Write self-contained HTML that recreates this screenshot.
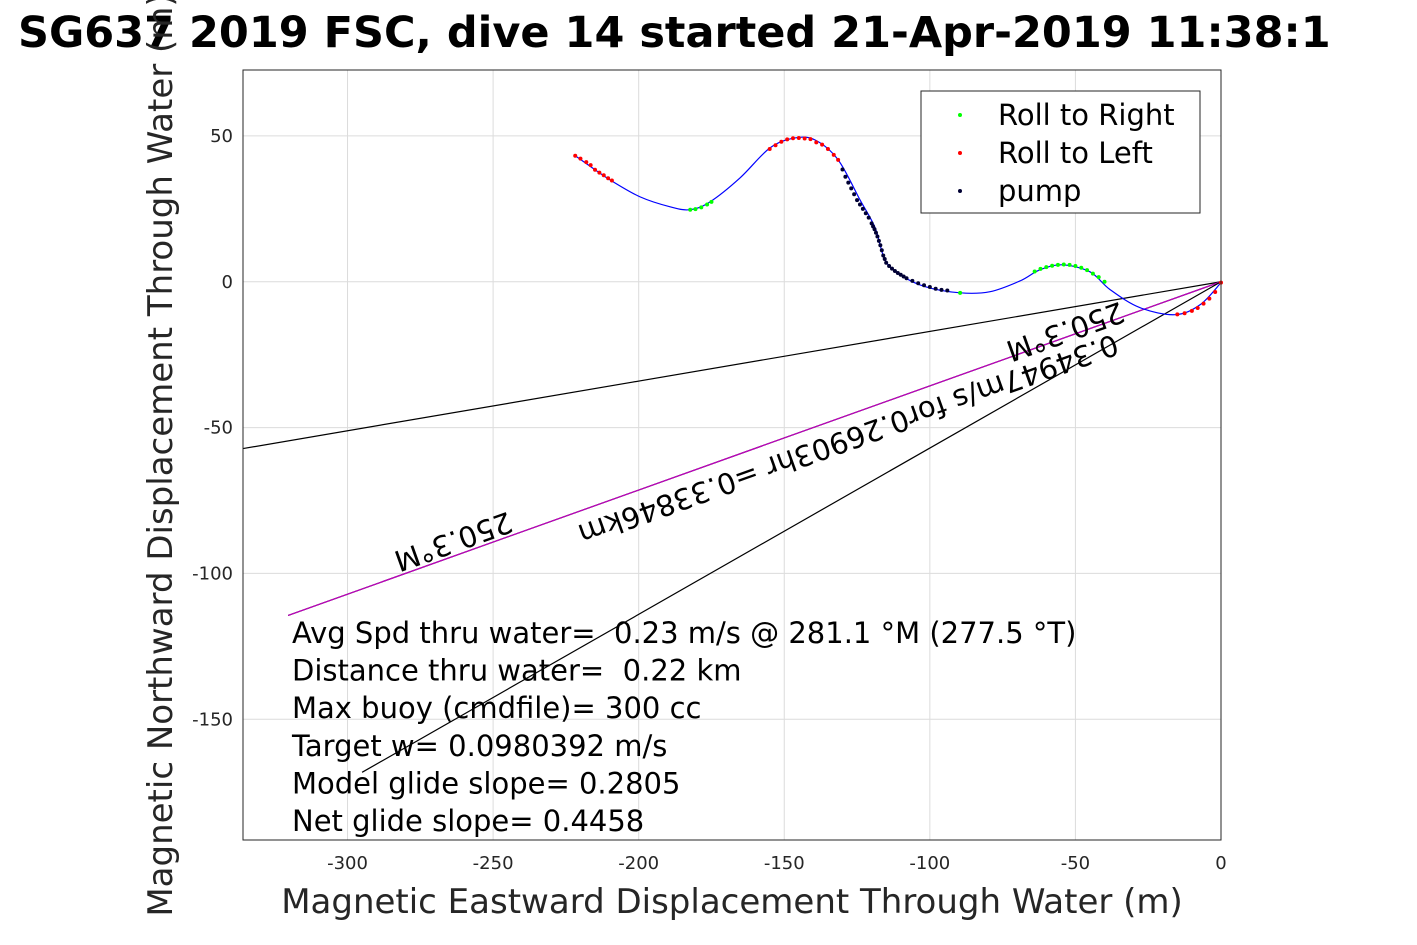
<!DOCTYPE html>
<html><head><meta charset="utf-8"><style>
body{margin:0;background:#fff;}
svg{display:block;font-family:"DejaVu Sans","Liberation Sans",sans-serif;}
text{white-space:pre;}
</style></head><body>
<svg id="c" width="1417" height="945"></svg>
<script>
const xTicks=[-300,-250,-200,-150,-100,-50,0];
const yTicks=[50,0,-50,-100,-150];
const trackX=[-221.8,-215.0,-209.8,-199.5,-189.2,-182.3,-175.5,-165.2,-154.9,-146.3,-139.4,-131.5,-124.0,-118.8,-115.4,-110.2,-101.6,-89.6,-79.3,-69.0,-62.2,-54.6,-45.0,-38.1,-27.8,-15.8,-7.2,0];
const trackY=[43.2,38.4,34.9,29.1,25.7,24.7,27.4,35.6,45.9,49.3,48.6,41.8,28.1,18.5,7.5,2.4,-1.7,-3.8,-3.4,0.3,4.1,5.8,3.4,-2.7,-8.9,-11.3,-7.9,-0.3];
const redX=[-221.8,-220,-218,-216.5,-215,-213.5,-212,-210.5,-209.2,-155,-153,-151,-149,-147,-145,-143,-141,-139,-137,-135,-133,-131.5,-15,-12.5,-10,-8,-6,-4,-2,0];
const redY=[43.2,42.2,41,40,38.4,37.4,36.5,35.5,34.7,45.5,46.8,48,48.8,49.2,49.3,49.1,48.9,47.8,47,45.5,43.5,41.8,-11.2,-10.8,-10,-9,-7.5,-5.8,-3.5,-0.3];
const greenX=[-182.3,-180.5,-178.5,-176.5,-175,-89.6,-64,-62,-60,-58,-56,-54,-52,-50,-48,-46,-44,-42,-40];
const greenY=[24.7,24.9,25.5,26.5,27.4,-3.8,3.5,4.4,5,5.5,5.8,5.9,5.8,5.4,4.8,4,2.8,1.6,0];
const pumpX=[-130,-129,-128,-127,-126,-125,-124,-123,-122,-121,-120,-119.5,-119,-118.5,-118,-117.5,-117,-116.5,-116,-115.5,-115,-114,-113,-112,-111,-110,-109,-108,-106,-104,-102,-100,-98,-96,-94];
const pumpY=[38.5,36,34,32,30,28,26.5,25,23.5,22,20,19,18,16.8,15.5,14,12.5,10.8,9,7.8,6.5,5.4,4.5,3.7,3,2.4,1.8,1.2,0.3,-0.5,-1.2,-1.8,-2.4,-2.8,-3];
const lineEnds=[[-335.9,-57.2,'#000'],[-320.4,-114.4,'#000'],[-320.4,-114.4,'#c000c0'],[-295,-168.2,'#000']];
const statLines=["Avg Spd thru water=  0.23 m/s @ 281.1 °M (277.5 °T)","Distance thru water=  0.22 km","Max buoy (cmdfile)= 300 cc","Target w= 0.0980392 m/s","Model glide slope= 0.2805","Net glide slope= 0.4458"];

const L=243,R=1221,T=70,B=840,x0=-335.9,x1=0,y0=-191.4,y1=72.6;
const sx=v=>L+(v-x0)/(x1-x0)*(R-L);
const sy=v=>B-(v-y0)/(y1-y0)*(B-T);
const svg=document.getElementById('c');
const NS='http://www.w3.org/2000/svg';
function mk(tag,attrs,parent){const e=document.createElementNS(NS,tag);for(const k in attrs)e.setAttribute(k,attrs[k]);(parent||svg).appendChild(e);return e;}

const title=mk('text',{x:18,y:47,'font-size':43,'font-weight':'bold',fill:'#000'});


title.textContent='SG637 2019 FSC, dive 14 started 21-Apr-2019 11:38:1';

const bg=mk('rect',{x:L,y:T,width:R-L,height:B-T,fill:'#fff'});



xTicks.forEach(v=>{
 const g=mk('line',{x1:sx(v),x2:sx(v),y1:T,y2:B,stroke:'#dcdcdc','stroke-width':1});
 
 
 const t=mk('text',{x:sx(v),y:869,'font-size':18,'text-anchor':'middle',fill:'#262626'});
 
 
 t.textContent=v;
});
yTicks.forEach(v=>{
 const g=mk('line',{x1:L,x2:R,y1:sy(v),y2:sy(v),stroke:'#dcdcdc','stroke-width':1});
 
 
 const t=mk('text',{x:233,y:sy(v)+6,'font-size':18,'text-anchor':'end',fill:'#262626'});
 
 
 t.textContent=v;
});

lineEnds.forEach(le=>{
 const l=mk('line',{x1:sx(0),y1:sy(0),x2:sx(le[0]),y2:sy(le[1]),stroke:le[2],'stroke-width':1.2});
 
 
});

// smooth Catmull-Rom path through track points
const P=trackX.map((v,i)=>[sx(v),sy(trackY[i])]);
let d='M'+P[0][0]+','+P[0][1];
for(let i=0;i<P.length-1;i++){
 const p0=P[Math.max(0,i-1)],p1=P[i],p2=P[i+1],p3=P[Math.min(P.length-1,i+2)];
 const c1=[p1[0]+(p2[0]-p0[0])/6,p1[1]+(p2[1]-p0[1])/6];
 const c2=[p2[0]-(p3[0]-p1[0])/6,p2[1]-(p3[1]-p1[1])/6];
 d+=` C${c1[0]},${c1[1]} ${c2[0]},${c2[1]} ${p2[0]},${p2[1]}`;
}
const tp=mk('path',{d:d,fill:'none',stroke:'#0000ff','stroke-width':1.2});



function dots(xs,ys,col,name){xs.forEach((v,i)=>{const c=mk('circle',{cx:sx(v),cy:sy(ys[i]),r:2,fill:col});
 
 });}
dots(redX,redY,'#ff0000','roll-left-marker');
dots(greenX,greenY,'#00ff00','roll-right-marker');
dots(pumpX,pumpY,'#000033','pump-marker');

function rtext(x,y,s,name){const t=mk('text',{x:x,y:y,'font-size':29,'text-anchor':'middle',fill:'#000',transform:`rotate(160.3 ${x} ${y})`});
 
 
 t.textContent=s;}
rtext(450,532,'250.3°M','heading-label-lower');
rtext(845,430,'0.34947m/s for0.26903hr =0.33846km','current-label');
rtext(1062,322,'250.3°M','heading-label-upper');

statLines.forEach((s,i)=>{const t=mk('text',{x:292,y:643+i*37.6,'font-size':29,fill:'#000'});
 
 
 t.textContent=s;});

const fr=mk('rect',{x:L,y:T,width:R-L,height:B-T,fill:'none',stroke:'#262626','stroke-width':1});



const lg=mk('g',{});


mk('rect',{x:921,y:91,width:279,height:122,fill:'#fff',stroke:'#262626','stroke-width':1},lg);
[['Roll to Right','#00ff00'],['Roll to Left','#ff0000'],['pump','#000033']].forEach((e,i)=>{
 const g=mk('g',{},lg);
 
 
 mk('circle',{cx:960,cy:115+i*38,r:2,fill:e[1]},g);
 const t=mk('text',{x:998,y:125+i*38,'font-size':29,fill:'#000'},g);
 t.textContent=e[0];
});

const xl=mk('text',{x:732,y:913,'font-size':34,'text-anchor':'middle',fill:'#262626'});


xl.textContent='Magnetic Eastward Displacement Through Water (m)';
const yl=mk('text',{x:172,y:455,'font-size':34,'text-anchor':'middle',fill:'#262626',transform:'rotate(-90 172 455)'});


yl.textContent='Magnetic Northward Displacement Through Water (m)';
</script>
</body></html>
